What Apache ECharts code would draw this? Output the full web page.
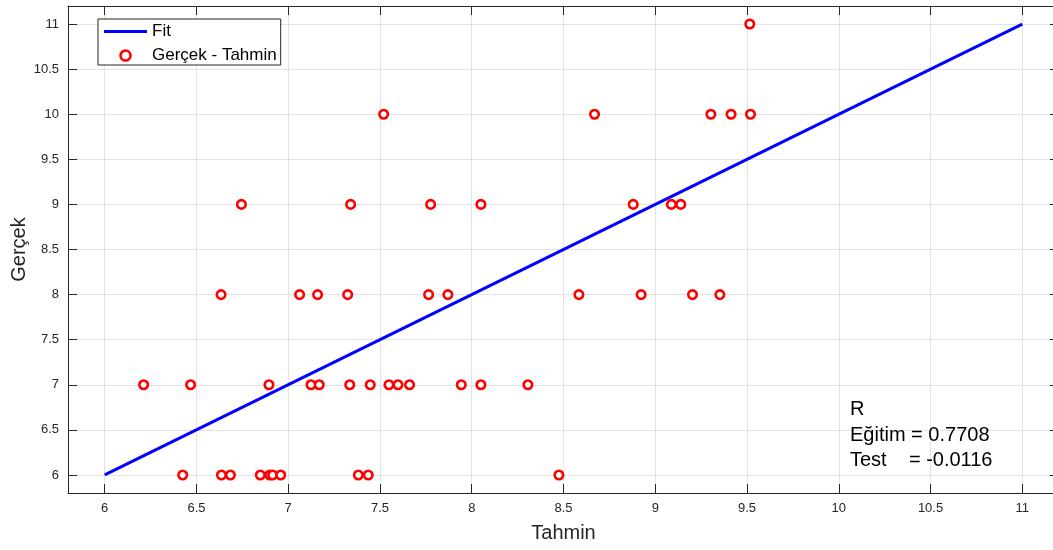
<!DOCTYPE html>
<html>
<head>
<meta charset="utf-8">
<script src="https://cdn.jsdelivr.net/npm/echarts@6.0.0/dist/echarts.min.js"></script>
<style>
html,body{margin:0;padding:0;background:#fff;}
#c{width:1053px;height:550px;}
</style>
</head>
<body>
<div id="c"></div>
<script>
// Data
var tahmin = [
  9.515,
  7.52, 8.669, 9.303, 9.413, 9.519,
  6.745, 7.34, 7.776, 8.05, 8.88, 9.088, 9.139,
  6.634, 7.062, 7.16, 7.324, 7.765, 7.87, 8.584, 8.923, 9.203, 9.352,
  6.212, 6.468, 6.895, 7.124, 7.169, 7.335, 7.447, 7.549, 7.598, 7.661, 7.943, 8.05, 8.306,
  6.425, 6.636, 6.685, 6.848, 6.899, 6.915, 6.959, 7.382, 7.436, 8.475
];
var gercek = [
  11,
  10, 10, 10, 10, 10,
  9, 9, 9, 9, 9, 9, 9,
  8, 8, 8, 8, 8, 8, 8, 8, 8, 8,
  7, 7, 7, 7, 7, 7, 7, 7, 7, 7, 7, 7, 7,
  6, 6, 6, 6, 6, 6, 6, 6, 6, 6
];
var fitX = [6, 11];
var fitY = [6, 11];
var xTicks = [6, 6.5, 7, 7.5, 8, 8.5, 9, 9.5, 10, 10.5, 11];
var yTicks = [6, 6.5, 7, 7.5, 8, 8.5, 9, 9.5, 10, 10.5, 11];
var seriesNames = ['Fit', 'Gerçek - Tahmin'];
var xName = 'Tahmin';
var yName = 'Gerçek';
var annotationLines = ['R', 'Eğitim = 0.7708', 'Test    = -0.0116'];

var FONT = '"Liberation Sans", Arial, Helvetica, sans-serif';
var AX = '#262626';

function zip(a, b) { return a.map(function (v, i) { return [v, b[i]]; }); }

function valueAxis(ticks, extra) {
  var base = {
    type: 'value', min: 5.8, max: 11.2,
    axisLine: { show: true, onZero: false, lineStyle: { color: AX, width: 1 } },
    axisTick: { show: true, inside: true, length: 9, customValues: ticks, lineStyle: { color: AX } },
    axisLabel: { show: true, customValues: ticks, color: AX, fontSize: 13, fontFamily: FONT, margin: 9,
      formatter: function (v) { return String(v); } },
    splitLine: { show: false },
    nameMoveOverlap: false,
    nameTextStyle: { color: AX, fontSize: 20, fontFamily: FONT }
  };
  for (var k in extra) base[k] = extra[k];
  return base;
}

var chart = echarts.init(document.getElementById('c'), null, { renderer: 'canvas' });
chart.setOption({
  animation: false,
  backgroundColor: '#fff',
  textStyle: { fontFamily: FONT },
  grid: { left: 68, top: 6, width: 991, height: 487, containLabel: false, outerBoundsMode: 'none' },
  xAxis: [
    valueAxis(xTicks, {
      position: 'bottom', name: xName, nameLocation: 'middle', nameGap: 30,
      splitLine: { show: true, lineStyle: { color: '#e3e3e3', width: 1 } }
    }),
    valueAxis(xTicks, { position: 'top', axisLabel: { show: false } })
  ],
  yAxis: [
    valueAxis(yTicks, {
      position: 'left', name: yName, nameLocation: 'middle', nameGap: 39,
      splitLine: { show: true, lineStyle: { color: '#e3e3e3', width: 1 } }
    }),
    valueAxis(yTicks, { position: 'right', axisLabel: { show: false } })
  ],
  legend: {
    orient: 'vertical', left: 98, top: 19,
    backgroundColor: '#fff', borderColor: AX, borderWidth: 1, borderRadius: 0,
    padding: [4, 4, 1, 6], itemGap: 7, itemWidth: 43, itemHeight: 10,
    textStyle: { color: '#000', fontSize: 17, fontFamily: FONT },
    data: [
      { name: seriesNames[0], icon: 'path://M0,0L43,0L43,3L0,3Z' },
      { name: seriesNames[1], icon: 'circle',
        itemStyle: { color: '#ffffff', borderColor: '#ff0000', borderWidth: 2.6 } }
    ]
  },
  series: [
    {
      name: seriesNames[0], type: 'line', data: zip(fitX, fitY),
      showSymbol: false, symbol: 'none',
      lineStyle: { color: '#0000ff', width: 3 }, itemStyle: { color: '#0000ff' },
      z: 3
    },
    {
      name: seriesNames[1], type: 'scatter', data: zip(tahmin, gercek),
      symbol: 'circle', symbolSize: 8.5,
      itemStyle: { color: '#ffffff', borderColor: '#ff0000', borderWidth: 2.6, opacity: 1 },
      z: 4
    }
  ],
  graphic: [
    {
      type: 'text', left: 850, top: 397, z: 10,
      style: {
        text: annotationLines.join('\n'),
        fill: '#000', fontSize: 20, fontFamily: FONT, lineHeight: 25.5
      }
    }
  ]
});
</script>
</body>
</html>
